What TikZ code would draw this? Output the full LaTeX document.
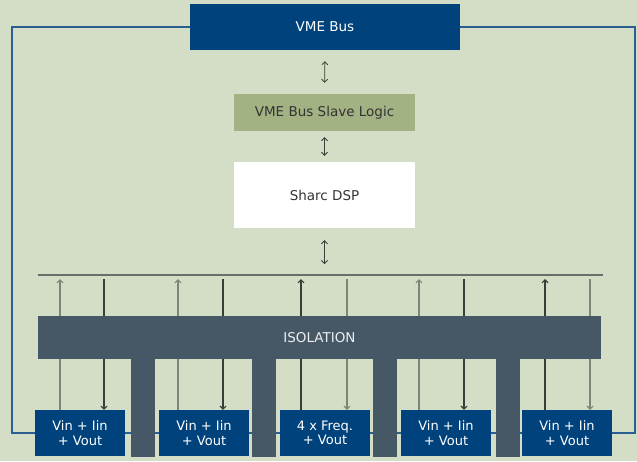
\documentclass[tikz,border=0pt]{standalone}
\usepackage{fontspec}
\setmainfont{DejaVu Sans}
\usetikzlibrary{arrows.meta, positioning}
\definecolor{bgsage}{HTML}{D4DEC6}
\definecolor{vmeblue}{HTML}{00437C}
\definecolor{olive}{HTML}{A3B283}
\definecolor{slate}{HTML}{465765}
\definecolor{frameblue}{HTML}{2A5F8F}
\definecolor{darkline}{HTML}{3A3C38}
\definecolor{greyline}{HTML}{7E8478}
\definecolor{bustone}{HTML}{6B6E66}
\tikzset{
    boxfont/.style={font=\fontsize{13.5}{14}\selectfont},
    bluebox/.style={boxfont, fill=vmeblue, text=white, inner sep=0pt, align=center},
    inbox/.style={bluebox, font=\fontsize{13}{14.5}\selectfont, minimum width=90pt, minimum height=46pt},
    lightbox/.style={boxfont, text=black!80, inner sep=0pt, minimum width=181pt},
    dblarrow/.style={darkline, line width=0.8pt, {Straight Barb[length=3pt,width=6pt]}-{Straight Barb[length=3pt,width=6pt]}, shorten >=11pt, shorten <=11pt},
    sigline/.style={line width=1.1pt},
    uptip/.style={-{Straight Barb[length=3pt,width=6pt]}},
}

\begin{document}
\begin{tikzpicture}[x=1pt, y=-1pt]
\fill[bgsage] (0,0) rectangle (637,461);
\useasboundingbox (0,0) rectangle (637,461);
% outer frame
\draw[frameblue, line width=1.2pt] (12,27) rectangle (635,433);

% upper chain
\node[bluebox, minimum width=270pt, minimum height=46pt] (vme) at (325,27) {VME Bus};
\node[lightbox, fill=olive, minimum height=37pt] (slave) at (324.5,112.5) {VME Bus Slave Logic};
\node[lightbox, fill=white, minimum height=66pt] (dsp) at (324.5,195) {Sharc DSP};

\draw[dblarrow] (vme.south) -- (slave.north);
\draw[dblarrow, shorten >=6pt, shorten <=6pt] (slave.south) -- (slave.south |- dsp.north);

% bus
\coordinate (busL) at (38,275);
\coordinate (busR) at (603,275);
\coordinate (bustop) at (0,279);
\draw[bustone, line width=1.3pt] (busL) -- (busR);
\draw[dblarrow, shorten >=11pt, shorten <=12pt] (dsp.south) -- (dsp.south |- busL);

% input channels
\node[inbox] (in1) at (80,433) {Vin + Iin\\+ Vout};
\node[inbox] (in2) at (204,433) {Vin + Iin\\+ Vout};
\node[inbox] (in3) at (325,433) {4 x Freq.\\+ Vout};
\node[inbox] (in4) at (446,433) {Vin + Iin\\+ Vout};
\node[inbox] (in5) at (567,433) {Vin + Iin\\+ Vout};

\foreach \i/\u/\d/\uc/\dc in {1/-20/24/greyline/darkline, 2/-26/19/greyline/darkline,
    3/-24/22/darkline/greyline, 4/-27/18/greyline/darkline, 5/-22/23/darkline/greyline}{
  \draw[sigline, uptip, \uc] ([xshift=\u pt]in\i.north) -- ([xshift=\u pt]in\i.north |- bustop);
  \draw[sigline, uptip, \dc] ([xshift=\d pt]in\i.north |- bustop) -- ([xshift=\d pt]in\i.north);
}

% isolation barrier
\node[boxfont, fill=slate, text=white!90!slate, minimum width=563pt, minimum height=43pt, inner sep=0pt] (iso) at (319.5,337.5) {ISOLATION};
\foreach \xa in {131,252,373,496}
  \fill[slate] (\xa,359) rectangle ++(24,98);
\end{tikzpicture}
\end{document}
